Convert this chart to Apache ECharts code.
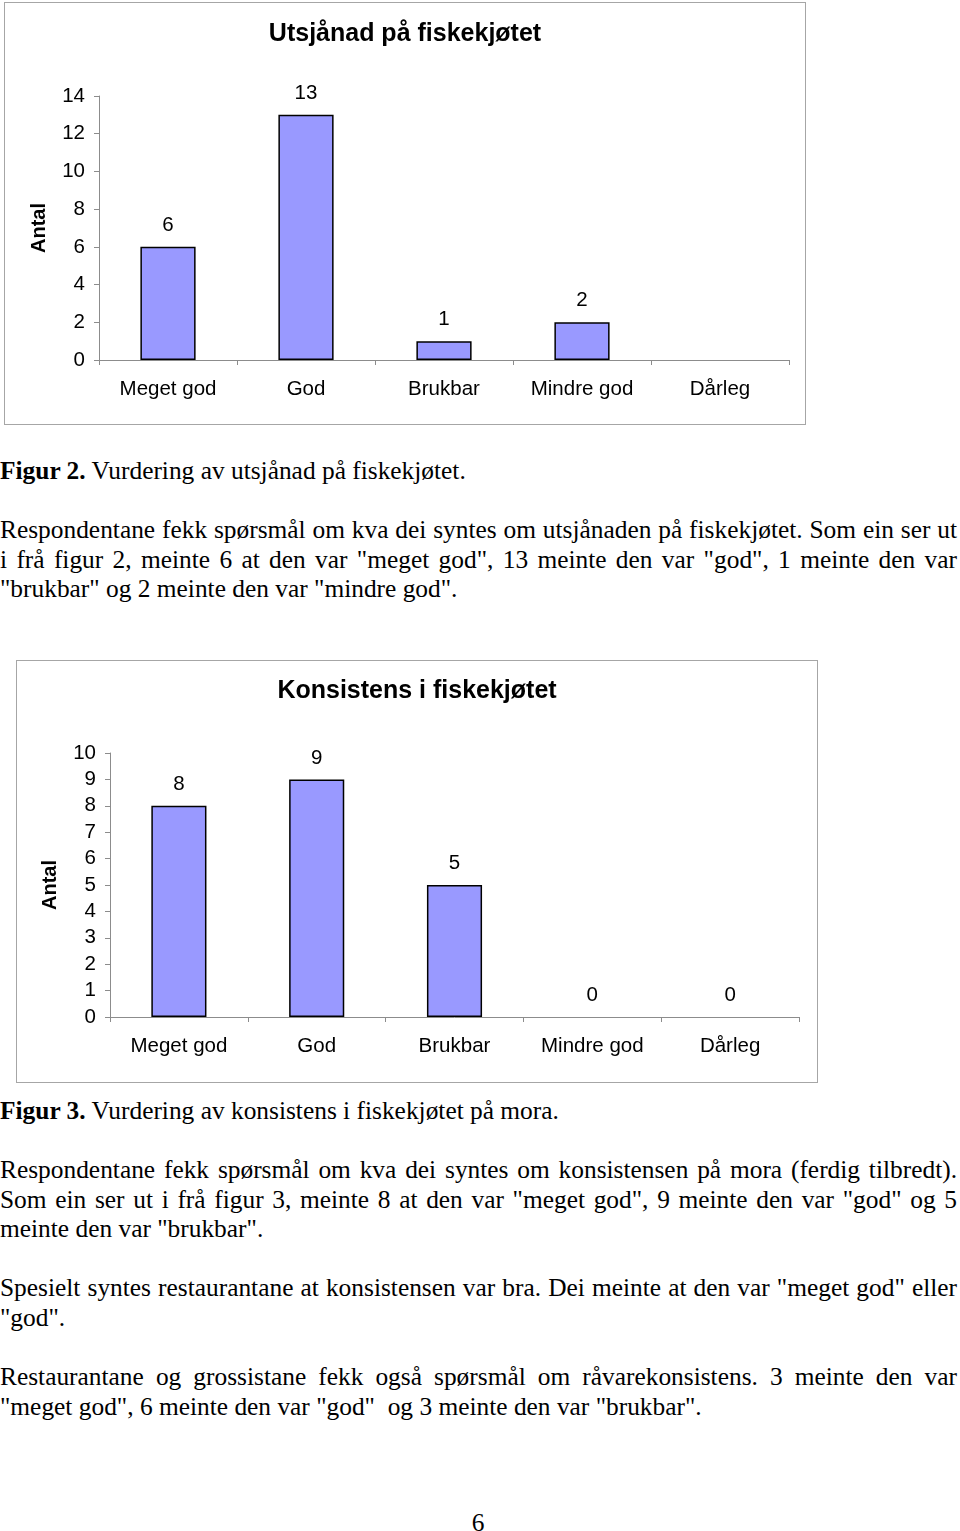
<!DOCTYPE html>
<html>
<head>
<meta charset="utf-8">
<script src="https://cdn.jsdelivr.net/npm/echarts@6/dist/echarts.min.js"></script>
<style>
  html, body { margin: 0; padding: 0; background: #fff; }
  body { width: 960px; height: 1531px; position: relative; overflow: hidden; }
  .box { position: absolute; box-sizing: border-box; border: 1px solid #a6a6a6; background: #fff; }
  .txt { position: absolute; left: 0; width: 957px; font-family: "Liberation Serif", "Times New Roman", serif; font-size: 25.4px; line-height: 29.5px; color: #000; white-space: nowrap; }
  .j { text-align: justify; text-align-last: justify; }
</style>
</head>
<body>
<div id="c1" class="box" style="left:4px; top:2px; width:802px; height:423px;"></div>
<div id="c2" class="box" style="left:16px; top:660px; width:802px; height:423px;"></div>

<div class="txt" style="top:456px;"><b>Figur 2.</b> Vurdering av utsjånad på fiskekjøtet.</div>
<div class="txt" style="top:515px;">
  <div class="j">Respondentane fekk spørsmål om kva dei syntes om utsjånaden på fiskekjøtet. Som ein ser ut</div>
  <div class="j">i frå figur 2, meinte 6 at den var "meget god", 13 meinte den var "god", 1 meinte den var</div>
  <div>"brukbar" og 2 meinte den var "mindre god".</div>
</div>

<div class="txt" style="top:1096px;"><b>Figur 3.</b> Vurdering av konsistens i fiskekjøtet på mora.</div>
<div class="txt" style="top:1155px;">
  <div class="j">Respondentane fekk spørsmål om kva dei syntes om konsistensen på mora (ferdig tilbredt).</div>
  <div class="j">Som ein ser ut i frå figur 3, meinte 8 at den var "meget god", 9 meinte den var "god" og 5</div>
  <div>meinte den var "brukbar".</div>
</div>
<div class="txt" style="top:1273px;">
  <div class="j">Spesielt syntes restaurantane at konsistensen var bra. Dei meinte at den var "meget god" eller</div>
  <div>"god".</div>
</div>
<div class="txt" style="top:1362px;">
  <div class="j">Restaurantane og grossistane fekk også spørsmål om råvarekonsistens. 3 meinte den var</div>
  <div>"meget god", 6 meinte den var "god"&nbsp; og 3 meinte den var "brukbar".</div>
</div>
<div class="txt" style="top:1508px; left:468px; width:20px; text-align:center;">6</div>

<script>
const categories = ["Meget god", "God", "Brukbar", "Mindre god", "Dårleg"];
const utsjanadValues = [6, 13, 1, 2, null];
const konsistensValues = [8, 9, 5, 0, 0];
const utsjanadTicks = { min: 0, max: 14, interval: 2 };
const konsistensTicks = { min: 0, max: 10, interval: 1 };
const title1 = "Utsjånad på fiskekjøtet";
const title2 = "Konsistens i fiskekjøtet";
const yName = "Antal";

const sans = "'Liberation Sans', Arial, sans-serif";
const axisGrey = "#8c8c8c";

function makeOption(titleText, values, ticks, grid) {
  const data = values.map(v => (v === 0 ? { value: v, itemStyle: { borderWidth: 0 } } : v));
  return {
    animation: false,
    textStyle: { fontFamily: sans },
    title: {
      text: titleText,
      left: "center",
      top: grid.titleTop,
      textStyle: { fontFamily: sans, fontSize: 25, fontWeight: "bold", color: "#000" }
    },
    grid: { left: grid.left, top: grid.top, width: grid.width, height: grid.height },
    xAxis: {
      type: "category",
      data: categories,
      boundaryGap: true,
      axisLine: { show: true, lineStyle: { color: axisGrey, width: 1 } },
      axisTick: { show: true, length: 5, alignWithLabel: false, lineStyle: { color: axisGrey } },
      axisLabel: { fontSize: 20.5, color: "#000", margin: 19, fontFamily: sans, interval: 0 },
      splitLine: { show: false }
    },
    yAxis: {
      type: "value",
      min: ticks.min,
      max: ticks.max,
      interval: ticks.interval,
      name: yName,
      nameLocation: "middle",
      nameRotate: 90,
      nameGap: grid.nameGap,
      nameTextStyle: { fontFamily: sans, fontSize: 20, fontWeight: "bold", color: "#000" },
      axisLine: { show: true, lineStyle: { color: axisGrey, width: 1 } },
      axisTick: { show: true, length: 5, lineStyle: { color: axisGrey } },
      axisLabel: { fontSize: 20.5, color: "#000", margin: 14, fontFamily: sans },
      splitLine: { show: false }
    },
    series: [{
      type: "bar",
      data: data,
      barWidth: "40%",
      itemStyle: { color: "#9999ff", borderColor: "#000", borderWidth: 1.5 },
      label: { show: true, position: "top", distance: 11, fontSize: 20.5, color: "#000", fontFamily: sans }
    }]
  };
}

const c1 = echarts.init(document.getElementById("c1"), null, { renderer: "canvas" });
c1.setOption(makeOption(title1, utsjanadValues, utsjanadTicks,
  { left: 94, top: 93, width: 690, height: 264, titleTop: 14, nameGap: 50 }));

const c2 = echarts.init(document.getElementById("c2"), null, { renderer: "canvas" });
c2.setOption(makeOption(title2, konsistensValues, konsistensTicks,
  { left: 93, top: 92, width: 689, height: 264, titleTop: 13, nameGap: 50 }));
</script>
</body>
</html>
